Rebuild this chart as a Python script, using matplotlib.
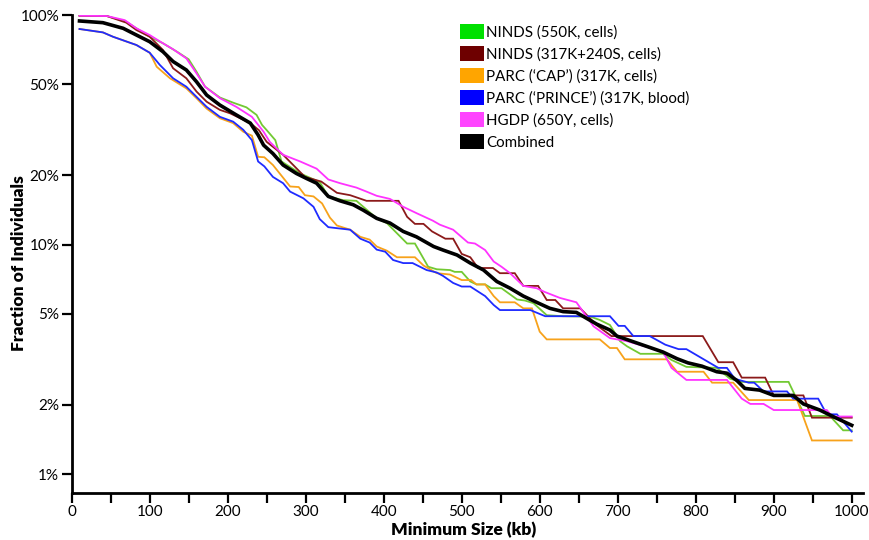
import matplotlib
matplotlib.use("Agg")
import matplotlib.pyplot as plt
from matplotlib.patches import Patch
from matplotlib.ticker import FixedLocator, FuncFormatter, NullLocator

plt.rcParams['font.family'] = ['Lato', 'DejaVu Sans']

# ---- data (Minimum size in kb, fraction of individuals in %) ----
labels = ["NINDS (550K, cells)", "NINDS (317K+240S, cells)", "PARC (\u2018CAP\u2019) (317K, cells)",
          "PARC (\u2018PRINCE\u2019) (317K, blood)", "HGDP (650Y, cells)", "Combined"]

ninds550_kb = [10, 45, 70, 83, 100, 117, 135, 150, 160, 171, 190, 207, 224, 237, 244, 250, 261, 269, 293, 318,
               329, 348, 365, 391, 404, 430, 440, 457, 468, 485, 491, 500, 511, 519, 530, 538, 551, 571, 581,
               592, 609, 630, 665, 677, 690, 703, 712, 729, 758, 769, 788, 827, 844, 859, 919, 940, 972, 989, 1000]
ninds550_pct = [99.3, 99.0, 93.5, 87.5, 80.4, 75.3, 69.2, 64.1, 56.6, 48.7, 43.7, 41.5, 39.6, 36.7, 33.2, 31.5,
                28.5, 23.0, 20.4, 18.7, 16.2, 15.6, 15.5, 13.0, 12.4, 10.1, 10.1, 8.0, 7.8, 7.74, 7.6, 7.6, 6.9,
                6.7, 6.7, 6.45, 6.45, 5.76, 5.7, 5.55, 4.92, 4.87, 4.85, 4.69, 4.46, 3.79, 3.6, 3.34, 3.34, 3.14,
                2.93, 2.9, 2.6, 2.52, 2.52, 1.79, 1.79, 1.55, 1.55]

ninds317_kb = [10, 45, 70, 83, 100, 117, 130, 147, 160, 173, 190, 203, 229, 240, 250, 271, 284, 299, 320, 340,
               357, 378, 419, 430, 440, 451, 462, 479, 489, 500, 511, 521, 540, 549, 568, 579, 598, 609, 620,
               630, 652, 673, 692, 809, 829, 848, 859, 889, 900, 938, 949, 1000]
ninds317_pct = [99.3, 99.0, 92.6, 86.0, 80.4, 70.4, 58.6, 53.0, 46.4, 41.9, 38.6, 37.3, 33.8, 31.5, 28.0, 24.6,
                22.2, 19.7, 18.8, 16.8, 16.4, 15.5, 15.5, 13.2, 12.3, 12.3, 11.4, 10.6, 10.6, 9.1, 8.8, 7.9,
                7.9, 7.5, 7.5, 6.6, 6.6, 5.73, 5.73, 5.27, 5.27, 4.45, 3.99, 3.99, 3.07, 3.07, 2.63, 2.63, 2.2,
                2.2, 1.76, 1.76]

cap_kb = [10, 40, 53, 83, 100, 109, 126, 147, 160, 173, 190, 207, 220, 231, 239, 247, 258, 280, 291, 299, 310,
          321, 331, 340, 357, 370, 382, 391, 404, 417, 440, 451, 468, 485, 500, 512, 519, 530, 541, 549, 568,
          579, 590, 600, 609, 677, 690, 699, 709, 763, 776, 810, 821, 848, 868, 930, 949, 1000]
cap_pct = [86.9, 84.0, 80.4, 74.0, 68.5, 59.5, 53.0, 47.9, 43.4, 39.1, 35.5, 33.8, 31.0, 29.8, 24.1, 24.0, 22.2,
           17.9, 17.8, 16.4, 16.2, 15.1, 13.1, 12.1, 11.6, 10.8, 10.5, 9.8, 9.4, 8.8, 8.8, 8.1, 7.5, 7.4, 7.0,
           7.0, 6.7, 6.7, 5.96, 5.6, 5.6, 5.27, 5.27, 4.17, 3.86, 3.86, 3.54, 3.54, 3.16, 3.16, 2.79, 2.79,
           2.5, 2.5, 2.1, 2.1, 1.40, 1.40]

prince_kb = [10, 40, 53, 83, 100, 113, 130, 147, 160, 173, 190, 207, 220, 231, 239, 247, 258, 271, 280, 297,
             310, 318, 329, 357, 370, 382, 391, 402, 412, 425, 437, 455, 468, 476, 489, 500, 511, 519, 530,
             541, 549, 588, 607, 690, 701, 709, 720, 741, 761, 778, 788, 829, 840, 850, 868, 875, 887, 917,
             925, 957, 968, 981, 1000]
prince_pct = [86.9, 84.0, 80.4, 74.0, 68.5, 60.6, 53.0, 48.7, 44.0, 39.8, 36.0, 34.3, 31.6, 28.5, 23.0, 21.9,
              19.7, 18.5, 17.0, 15.9, 14.6, 12.9, 11.9, 11.6, 10.6, 10.2, 9.5, 9.3, 8.56, 8.3, 8.3, 7.74, 7.55,
              7.3, 6.8, 6.56, 6.56, 6.3, 5.96, 5.45, 5.18, 5.18, 4.87, 4.87, 4.42, 4.42, 3.99, 3.99, 3.66, 3.5,
              3.5, 2.9, 2.9, 2.6, 2.5, 2.5, 2.29, 2.29, 2.13, 2.13, 1.82, 1.82, 1.53]

hgdp_kb = [10, 45, 68, 83, 100, 117, 130, 147, 160, 171, 190, 211, 231, 246, 254, 271, 293, 314, 329, 344, 365,
           378, 391, 408, 425, 442, 463, 472, 489, 508, 517, 530, 541, 551, 562, 579, 596, 607, 626, 647, 669,
           690, 712, 741, 758, 769, 788, 840, 859, 870, 887, 900, 968, 975, 1000]
hgdp_pct = [99.3, 99.0, 95.0, 87.5, 81.8, 75.3, 70.9, 64.7, 55.7, 48.7, 43.4, 39.8, 36.0, 31.0, 28.0, 24.6,
            23.0, 21.4, 19.2, 18.5, 17.7, 17.0, 16.3, 15.8, 14.6, 13.7, 12.7, 12.2, 11.6, 10.2, 10.1, 9.46,
            8.43, 8.0, 7.5, 6.6, 6.45, 6.2, 5.85, 5.6, 4.4, 3.91, 3.79, 3.55, 3.41, 2.9, 2.57, 2.57, 2.13,
            2.02, 2.02, 1.9, 1.9, 1.78, 1.78]

comb_kb = [10, 40, 66, 83, 100, 117, 130, 147, 160, 173, 190, 211, 229, 239, 246, 258, 271, 288, 301, 314, 329,
           344, 361, 374, 391, 408, 425, 442, 464, 476, 494, 511, 528, 545, 562, 579, 596, 613, 630, 647, 660,
           673, 690, 699, 716, 737, 758, 776, 790, 808, 827, 840, 853, 863, 882, 900, 925, 938, 959, 979, 1000]
comb_pct = [94.2, 92.6, 87.5, 81.8, 76.5, 69.2, 62.7, 57.6, 51.2, 44.8, 40.5, 36.7, 33.8, 30.0, 27.1, 24.9,
            22.2, 20.4, 19.4, 18.5, 16.2, 15.5, 14.9, 14.1, 13.0, 12.4, 11.4, 10.8, 9.8, 9.46, 9.0, 8.3, 7.74,
            6.9, 6.45, 5.96, 5.6, 5.27, 5.1, 5.06, 4.77, 4.5, 4.24, 3.99, 3.81, 3.6, 3.4, 3.18, 3.05, 2.95,
            2.79, 2.75, 2.55, 2.36, 2.32, 2.2, 2.2, 2.02, 1.9, 1.76, 1.63]

ytick_vals = [1, 2, 5, 10, 20, 50, 100]
xtick_vals = list(range(0, 1001, 50))

line_colors = ['#72c933', '#8b1a1a', '#f7a21b', '#1f2bff', '#ff33ff', '#000000']
legend_colors = ['#00e000', '#6e0000', '#ffa500', '#0000ff', '#ff44ff', '#000000']

fig = plt.figure(figsize=(8.69, 5.4), dpi=100)
ax = fig.add_axes([0.0825, 0.0876, 0.9102, 0.8846])

series = [(ninds550_kb, ninds550_pct), (ninds317_kb, ninds317_pct), (cap_kb, cap_pct),
          (prince_kb, prince_pct), (hgdp_kb, hgdp_pct)]
for (xs, ys), c in zip(series, line_colors[:5]):
    ax.plot(xs, ys, color=c, lw=1.3, solid_joinstyle='miter')
ax.plot(comb_kb, comb_pct, color='black', lw=2.6, zorder=5)

ax.set_yscale('log')
ax.set_ylim(0.829, 100)
ax.set_xlim(0, 1014)
ax.yaxis.set_major_locator(FixedLocator(ytick_vals))
ax.yaxis.set_minor_locator(NullLocator())
ax.yaxis.set_major_formatter(FuncFormatter(lambda v, p: f"{v:g}%"))
ax.xaxis.set_major_locator(FixedLocator(xtick_vals))
ax.xaxis.set_major_formatter(FuncFormatter(lambda v, p: f"{int(v)}" if int(v) % 100 == 0 else ""))

for s in ['top', 'right']:
    ax.spines[s].set_visible(False)
for s in ['left', 'bottom']:
    ax.spines[s].set_linewidth(2)
ax.tick_params(axis='both', width=1.6, length=7, labelsize=11, pad=2)

ax.set_xlabel("Minimum Size (kb)", fontsize=12.5, fontweight='heavy')
ax.set_ylabel("Fraction of Individuals", fontsize=12.5, fontweight='heavy')
ax.xaxis.set_label_coords(0.495, -0.06)
ax.yaxis.set_label_coords(-0.057, 0.48)

handles = [Patch(facecolor=c, edgecolor='none') for c in legend_colors]
fig.legend(handles, labels, loc='upper left', bbox_to_anchor=(0.5293, 0.955), frameon=False,
           fontsize=10.9, handlelength=1.59, handleheight=1.12, labelspacing=0.43,
           handletextpad=0.12, borderpad=0, borderaxespad=0)

fig.savefig("out.png", dpi=100)
